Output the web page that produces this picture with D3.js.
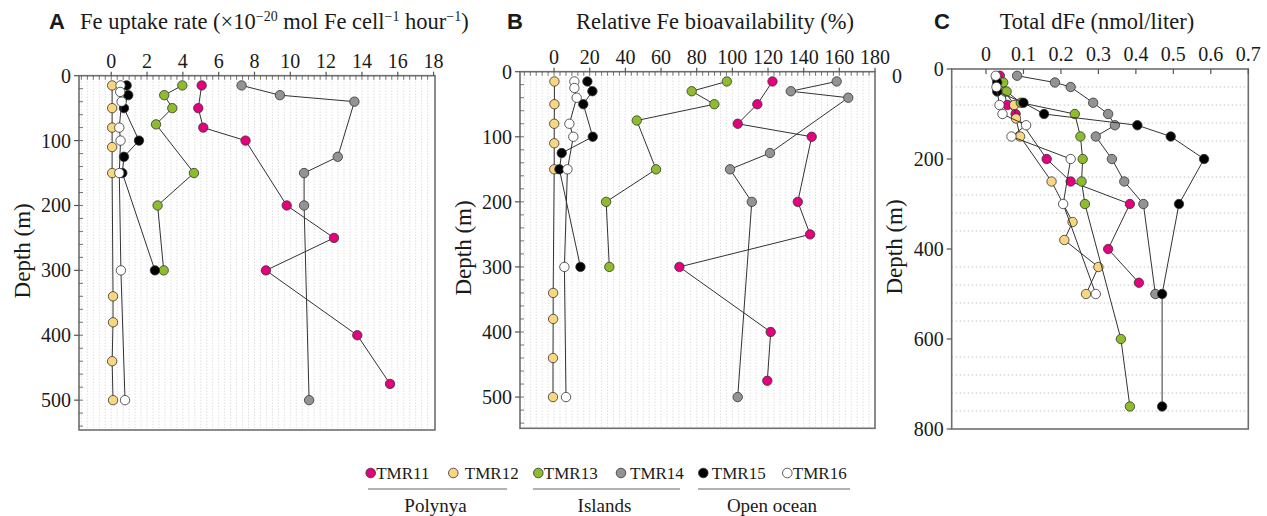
<!DOCTYPE html>
<html>
<head>
<meta charset="utf-8">
<script src="https://cdn.jsdelivr.net/npm/d3@7"></script>
<style>
  body { margin: 0; background: #fff; }
  svg { display: block; }
  text { font-family: "Liberation Serif", "Times New Roman", serif; fill: #1a1a1a; }
  .letter { font-family: "Liberation Sans", Arial, sans-serif; font-weight: bold; }
</style>
</head>
<body>
<svg id="chart" width="1267" height="516"></svg>
<script>
/* globals d3 */
// Stations and their colours
const stations = ['TMR11', 'TMR12', 'TMR13', 'TMR14', 'TMR15', 'TMR16']
const colors = ['#e5007e', '#f9d680', '#8dbd2c', '#939393', '#000000', '#ffffff']
const regions = ['Polynya', 'Islands', 'Open ocean']

// Sampling depths (m) of panels A and B
const depth11 = [15, 50, 80, 100, 200, 250, 300, 400, 475]
const depth12 = [15, 50, 80, 110, 150, 340, 380, 440, 500]
const depth13 = [15, 30, 50, 75, 150, 200, 300]
const depth14 = [15, 30, 40, 125, 150, 200, 500]
const depth15 = [15, 30, 50, 100, 125, 150, 300]
const depth16 = [15, 25, 40, 80, 100, 150, 300, 500]

// A: Fe uptake rate
const uptake11 = [5.05, 4.86, 5.14, 7.5, 9.8, 12.44, 8.64, 13.74, 15.57]
const uptake12 = [0.05, 0.05, 0.05, 0.05, 0.05, 0.1, 0.1, 0.05, 0.1]
const uptake13 = [3.97, 2.96, 3.41, 2.5, 4.62, 2.59, 2.93]
const uptake14 = [7.28, 9.42, 13.58, 12.65, 10.77, 10.77, 11.05]
const uptake15 = [0.86, 0.95, 0.71, 1.55, 0.71, 0.62, 2.44]
const uptake16 = [0.52, 0.5, 0.58, 0.45, 0.52, 0.45, 0.54, 0.77]

// B: relative Fe bioavailability (%)
const bioav11 = [122.5, 114, 103, 144.5, 136.7, 143.6, 70.3, 121.5, 119.6]
const bioav12 = [0.2, 0.2, 0.1, 0.1, 0.1, -0.5, -0.5, -0.6, -0.6]
const bioav13 = [96.9, 77.2, 89.9, 46.4, 57.2, 29.2, 31.0]
const bioav14 = [158.5, 132.8, 165, 121.1, 98.7, 110.9, 103]
const bioav15 = [18.7, 21.5, 16.4, 21.7, 4.3, 3, 14.8]
const bioav16 = [11.4, 11.4, 12.7, 8.6, 10.8, 7.5, 5.8, 6.7]

// C: total dFe (nmol/liter), own depth profiles
const dfeDepth11 = [15, 80, 100, 200, 250, 300, 400, 475]
const dfe11 = [0.037, 0.057, 0.079, 0.162, 0.226, 0.384, 0.326, 0.408]
const dfeDepth12 = [20, 50, 80, 110, 150, 250, 340, 380, 440, 500]
const dfe12 = [0.028, 0.051, 0.075, 0.08, 0.091, 0.175, 0.231, 0.209, 0.3, 0.267]
const dfeDepth13 = [30, 50, 75, 100, 150, 200, 250, 300, 600, 750]
const dfe13 = [0.046, 0.055, 0.093, 0.237, 0.252, 0.258, 0.255, 0.264, 0.36, 0.384]
const dfeDepth14 = [15, 30, 40, 75, 100, 125, 150, 200, 250, 300, 500]
const dfe14 = [0.083, 0.184, 0.226, 0.286, 0.326, 0.344, 0.293, 0.336, 0.369, 0.42, 0.452]
const dfeDepth15 = [30, 50, 75, 100, 125, 150, 200, 300, 500, 750]
const dfe15 = [0.03, 0.03, 0.1, 0.155, 0.404, 0.493, 0.582, 0.515, 0.47, 0.47]
const dfeDepth16 = [15, 40, 80, 100, 125, 150, 200, 300, 500]
const dfe16 = [0.026, 0.028, 0.036, 0.044, 0.107, 0.068, 0.226, 0.206, 0.293]

const zip = (ds, vs) => ds.map((d, i) => ({ depth: d, value: vs[i] }))
const abDepths = [depth11, depth12, depth13, depth14, depth15, depth16]

const panels = [
  {
    letter: 'A', frame: { l: 79, r: 435, t: 75.7, b: 430 },
    xDomain: [-1.8, 18.08], yDomain: [0, 546],
    xTicks: d3.range(0, 19, 2), minor: d3.range(-5, 55).map(i => i / 3),
    yTicks: d3.range(0, 501, 100), yMinor: d3.range(20, 541, 20),
    series: [uptake11, uptake12, uptake13, uptake14, uptake15, uptake16].map((v, i) => zip(abDepths[i], v)),
  },
  {
    letter: 'B', frame: { l: 520, r: 875, t: 71.7, b: 428.3 },
    xDomain: [-19.1, 180], yDomain: [0, 548],
    xTicks: d3.range(0, 181, 20), minor: d3.range(-5, 55).map(i => i * 10 / 3),
    yTicks: d3.range(0, 501, 100), yMinor: d3.range(20, 541, 20),
    series: [bioav11, bioav12, bioav13, bioav14, bioav15, bioav16].map((v, i) => zip(abDepths[i], v)),
  },
  {
    letter: 'C', frame: { l: 951.7, r: 1248.3, t: 69, b: 429 },
    xDomain: [-0.0915, 0.7], yDomain: [0, 800],
    xTicks: d3.range(0, 8).map(i => i / 10), minor: [],
    yTicks: d3.range(0, 801, 200), yMinor: [], hGrid: d3.range(40, 800, 40).filter(d => d % 200),
    series: [
      zip(dfeDepth11, dfe11), zip(dfeDepth12, dfe12), zip(dfeDepth13, dfe13),
      zip(dfeDepth14, dfe14), zip(dfeDepth15, dfe15), zip(dfeDepth16, dfe16),
    ],
  },
]

const svg = d3.select('#chart')

panels.forEach(p => {
  const f = p.frame
  const x = d3.scaleLinear().domain(p.xDomain).range([f.l, f.r])
  const y = d3.scaleLinear().domain(p.yDomain).range([f.t, f.b])
  const g = svg.append('g')

  // dotted background grid
  g.selectAll('line.vgrid')
    .data(p.minor.filter(v => x(v) > f.l + 2 && x(v) < f.r - 2))
    .join('line')
    .attr('x1', d => x(d)).attr('x2', d => x(d))
    .attr('y1', f.t).attr('y2', f.b)
    .attr('stroke', '#c4c4c4').attr('stroke-width', 0.8).attr('stroke-dasharray', '1 2')
  g.selectAll('line.hgrid')
    .data(p.hGrid || [])
    .join('line')
    .attr('x1', f.l).attr('x2', f.r)
    .attr('y1', d => y(d)).attr('y2', d => y(d))
    .attr('stroke', '#bdbdbd').attr('stroke-width', 0.9).attr('stroke-dasharray', '1.5 2.5')

  // frame
  g.append('rect')
    .attr('x', f.l).attr('y', f.t).attr('width', f.r - f.l).attr('height', f.b - f.t)
    .attr('fill', 'none').attr('stroke', '#6e6e6e').attr('stroke-width', 1.6)

  // top axis: labels + ticks
  const inward = p.letter === 'C'
  g.selectAll('line.xt').data(p.xTicks).join('line')
    .attr('x1', d => x(d)).attr('x2', d => x(d))
    .attr('y1', f.t).attr('y2', inward ? f.t + 5 : f.t - 4)
    .attr('stroke', '#555').attr('stroke-width', 1.2)
  g.selectAll('line.xm').data(p.minor.filter(v => x(v) > f.l + 2 && x(v) < f.r - 2)).join('line')
    .attr('x1', d => x(d)).attr('x2', d => x(d))
    .attr('y1', f.t).attr('y2', f.t + 4)
    .attr('stroke', '#555').attr('stroke-width', 0.8)
  g.selectAll('text.xl').data(p.xTicks).join('text')
    .attr('x', d => x(d)).attr('y', f.t - 8)
    .attr('text-anchor', 'middle').attr('font-size', 20)
    .text(d => d3.format('~g')(d))

  // left axis
  g.selectAll('line.yt').data(p.yTicks).join('line')
    .attr('x1', f.l - 5).attr('x2', f.l)
    .attr('y1', d => y(d)).attr('y2', d => y(d))
    .attr('stroke', '#555').attr('stroke-width', 1.2)
  g.selectAll('line.ym').data(p.yMinor).join('line')
    .attr('x1', f.l).attr('x2', f.l + 4)
    .attr('y1', d => y(d)).attr('y2', d => y(d))
    .attr('stroke', '#555').attr('stroke-width', 0.8)
  g.selectAll('text.yl').data(p.yTicks).join('text')
    .attr('x', f.l - 8).attr('y', d => y(d))
    .attr('text-anchor', 'end').attr('dominant-baseline', 'central').attr('font-size', 20)
    .text(d => d)

  g.append('text')
    .attr('transform', `translate(${f.l - 57},${(f.t + f.b) / 2 - 2}) rotate(-90)`)
    .attr('text-anchor', 'middle').attr('dominant-baseline', 'central').attr('font-size', 23)
    .text('Depth (m)')

  // profiles: line then dots for each station
  const line = d3.line().x(d => x(d.value)).y(d => y(d.depth))
  p.series.forEach((s, i) => {
    g.append('path').datum(s)
      .attr('d', line).attr('fill', 'none').attr('stroke', '#333').attr('stroke-width', 1)
    g.selectAll(null).data(s).join('circle')
      .attr('cx', d => x(d.value)).attr('cy', d => y(d.depth)).attr('r', 4.7)
      .attr('fill', colors[i]).attr('stroke', '#333').attr('stroke-width', 0.8)
  })
})

// titles
const tA = svg.append('text').attr('x', 80).attr('y', 29).attr('font-size', 22.5)
tA.append('tspan').text('Fe uptake rate (×10')
tA.append('tspan').attr('dy', -8).attr('font-size', 14).text('−20')
tA.append('tspan').attr('dy', 8).text(' mol Fe cell')
tA.append('tspan').attr('dy', -8).attr('font-size', 14).text('−1')
tA.append('tspan').attr('dy', 8).text(' hour')
tA.append('tspan').attr('dy', -8).attr('font-size', 14).text('−1')
tA.append('tspan').attr('dy', 8).text(')')
svg.append('text').attr('x', 715).attr('y', 29).attr('font-size', 22.5)
  .attr('text-anchor', 'middle').text('Relative Fe bioavailability (%)')
svg.append('text').attr('x', 1097).attr('y', 29).attr('font-size', 22.5)
  .attr('text-anchor', 'middle').text('Total dFe (nmol/liter)')
svg.selectAll('text.letter').data([[49, 'A'], [507, 'B'], [934, 'C']]).join('text')
  .attr('class', 'letter').attr('x', d => d[0]).attr('y', 29).attr('font-size', 22)
  .text(d => d[1])
svg.append('text').attr('x', 897).attr('y', 76).attr('font-size', 20)
  .attr('text-anchor', 'middle').attr('dominant-baseline', 'central').text('0')

// legend
const legendX = [370.7, 453.3, 538.3, 621, 703.3, 787.3]
const labelGap = [5.5, 11.5, 5.5, 9, 8.5, 5.5]
const legend = svg.append('g')
legend.selectAll('circle').data(stations).join('circle')
  .attr('cx', (d, i) => legendX[i]).attr('cy', 473).attr('r', 4.8)
  .attr('fill', (d, i) => colors[i]).attr('stroke', '#333').attr('stroke-width', 0.8)
legend.selectAll('text.st').data(stations).join('text')
  .attr('x', (d, i) => legendX[i] + labelGap[i]).attr('y', 473)
  .attr('dominant-baseline', 'central').attr('font-size', 17)
  .text(d => d)
const groupSpan = [[368, 507], [533, 680], [698, 850]]
legend.selectAll('line').data(regions).join('line')
  .attr('x1', (d, i) => groupSpan[i][0]).attr('x2', (d, i) => groupSpan[i][1])
  .attr('y1', 489).attr('y2', 489)
  .attr('stroke', '#666').attr('stroke-width', 1.2)
legend.selectAll('text.rg').data(regions).join('text')
  .attr('x', (d, i) => (groupSpan[i][0] + groupSpan[i][1]) / 2 - 2).attr('y', 505)
  .attr('text-anchor', 'middle').attr('dominant-baseline', 'central').attr('font-size', 19)
  .text(d => d)
</script>
</body>
</html>
